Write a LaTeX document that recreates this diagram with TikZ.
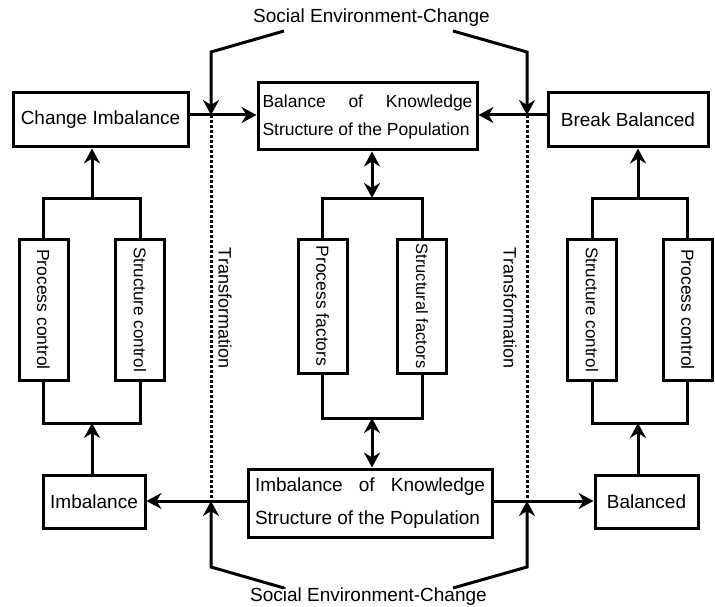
\documentclass[tikz,border=0pt]{standalone}
\usepackage{fontspec}
\setmainfont{Liberation Sans}
\usepackage{graphicx}
\usetikzlibrary{arrows.meta}
\begin{document}
\begin{tikzpicture}[x=1pt,y=-1pt,
  box/.style={draw,line width=3pt,inner sep=0pt,font=\fontsize{19}{22}\selectfont},
  vbox/.style={box,minimum width=49pt,font=\fontsize{17.5}{20}\selectfont},
  conn/.style={line width=3pt},
  arr/.style={conn,-{Stealth[length=15pt,width=16pt,inset=5pt]}},
  darr/.style={conn,{Stealth[length=15pt,width=16pt,inset=5pt]}-{Stealth[length=15pt,width=16pt,inset=5pt]}},
  dots/.style={line width=3pt,dash pattern=on 3pt off 2pt},
  lbl/.style={font=\fontsize{19}{22}\selectfont,inner sep=0pt}]
\useasboundingbox (0,0) rectangle (715,607);

% titles
\node[lbl] (st) at (371.5,18) {Social Environment-Change};
\node[lbl] (sb) at (368.5,597) {Social Environment-Change};

% main boxes
\node[box,minimum width=175pt,minimum height=54pt] (ci) at (100.5,120) {Change Imbalance};
\node[box,minimum width=219pt,minimum height=67pt,font=\fontsize{17.5}{28}\selectfont,align=left] (bk) at (367.5,116.5) {\makebox[210pt][s]{Balance of Knowledge}\\Structure of the Population};
\node[box,minimum width=160pt,minimum height=54pt] (bb) at (628,120) {Break Balanced};
\node[box,minimum width=102pt,minimum height=53pt] (imb) at (94,501.5) {Imbalance};
\node[box,minimum width=244pt,minimum height=68pt,font=\fontsize{19}{33}\selectfont,align=left] (ik) at (370,503) {\makebox[230pt][s]{Imbalance of Knowledge}\\Structure of the Population};
\node[box,minimum width=103pt,minimum height=53pt] (bal) at (646.5,501.5) {Balanced};

% vertical boxes
\node[vbox,minimum height=141pt] (pc1) at (43.5,309.5) {\rotatebox{-90}{Process control}};
\node[vbox,minimum height=141pt,font=\fontsize{17}{20}\selectfont] (sc1) at (140,309.5) {\rotatebox{-90}{Structure control}};
\node[vbox,minimum height=134pt] (pf) at (322.5,306) {\rotatebox{-90}{Process factors}};
\node[vbox,minimum height=134pt,font=\fontsize{16.5}{20}\selectfont] (sf) at (422,306) {\rotatebox{-90}{Structural factors}};
\node[vbox,minimum height=141pt,font=\fontsize{17}{20}\selectfont] (sc2) at (592,309.5) {\rotatebox{-90}{Structure control}};
\node[vbox,minimum height=141pt] (pc2) at (687.5,309.5) {\rotatebox{-90}{Process control}};

% transformation labels
\node[lbl,font=\fontsize{18}{20}\selectfont] (tl) at (225,308) {\rotatebox{-90}{Transformation}};
\node[lbl,font=\fontsize{18}{20}\selectfont] (tr) at (510,308) {\rotatebox{-90}{Transformation}};

% coordinates
\coordinate (xl) at (211,115);
\coordinate (xr) at (527,115);
\coordinate (yl) at (211,501);
\coordinate (yr) at (527,501);
\coordinate (a1) at (284,31);
\coordinate (a2) at (211,52);
\coordinate (b1) at (453,31);
\coordinate (b2) at (527,52);
\coordinate (c1) at (284,588);
\coordinate (c2) at (211,567);
\coordinate (d1) at (453,588);
\coordinate (d2) at (527,567);
\coordinate (lt) at (92,198);
\coordinate (lb) at (92,423);
\coordinate (ct) at (372,198);
\coordinate (cb) at (372,418);
\coordinate (rt) at (638,198);
\coordinate (rb) at (638,423);

% dotted transformation lines
\draw[dots] (xl) -- (yl);
\draw[dots] (xr) -- (yr);

% social environment arrows
\draw[arr] (a1) -- (a2) -- (xl);
\draw[arr] (b1) -- (b2) -- (xr);
\draw[arr] (c1) -- (c2) -- (yl);
\draw[arr] (d1) -- (d2) -- (yr);

% horizontal arrows
\draw[arr] (ci.east |- xl) -- (bk.west |- xl);
\draw[arr] (bb.west |- xr) -- (bk.east |- xr);
\draw[arr] (ik.west |- yl) -- (imb.east |- yl);
\draw[arr] (ik.east |- yr) -- (bal.west |- yr);

% left group
\draw[conn] (pc1.north) |- (sc1.north |- lt) -- (sc1.north);
\draw[arr] (lt) -- (ci.south -| lt);
\draw[conn] (pc1.south) |- (sc1.south |- lb) -- (sc1.south);
\draw[arr] (imb.north -| lb) -- (lb);

% centre group
\draw[conn] (pf.north) |- (sf.north |- ct) -- (sf.north);
\draw[darr] (bk.south -| ct) -- (ct);
\draw[conn] (pf.south) |- (sf.south |- cb) -- (sf.south);
\draw[darr] (cb) -- (ik.north -| cb);

% right group
\draw[conn] (sc2.north) |- (pc2.north |- rt) -- (pc2.north);
\draw[arr] (rt) -- (bb.south -| rt);
\draw[conn] (sc2.south) |- (pc2.south |- rb) -- (pc2.south);
\draw[arr] (bal.north -| rb) -- (rb);
\end{tikzpicture}
\end{document}
